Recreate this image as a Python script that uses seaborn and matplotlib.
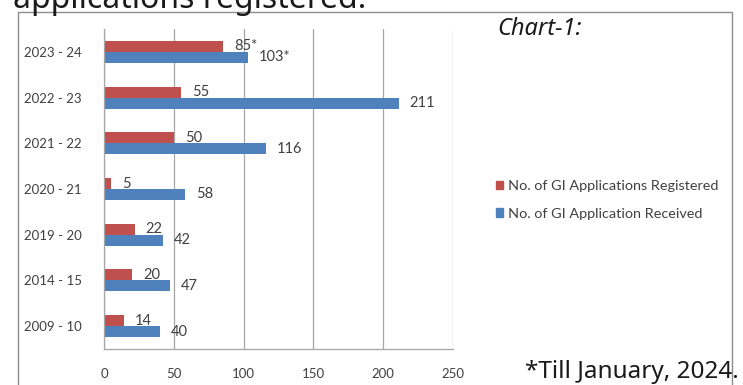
import matplotlib
matplotlib.use("Agg")
import matplotlib.pyplot as plt
import seaborn as sns
import pandas as pd
from matplotlib.patches import Rectangle

# Data
periods = ["2023 - 24", "2022 - 23", "2021 - 22", "2020 - 21",
           "2019 - 20", "2014 - 15", "2009 - 10"]
registered = [85, 55, 50, 5, 22, 20, 14]
received = [103, 211, 116, 58, 42, 47, 40]
registered_marks = ["*", "", "", "", "", "", ""]
received_marks = ["*", "", "", "", "", "", ""]
series_names = ["No. of GI Applications Registered",
                "No. of GI Application Received"]
x_ticks = [0, 50, 100, 150, 200, 250]

colors = ["#C0504D", "#4F81BD"]
text_grey = "#404040"
line_grey = "#A6A6A6"

df = pd.DataFrame({
    "period": periods * 2,
    "count": registered + received,
    "series": [series_names[0]] * len(periods) + [series_names[1]] * len(periods),
})

sns.set_theme(style="white")
plt.rcParams["font.family"] = ["Lato", "DejaVu Sans"]

W, H = 743, 385
fig = plt.figure(figsize=(W / 100, H / 100), dpi=100)
fig.patch.set_facecolor("white")

# Chart frame
fig.patches.append(Rectangle((18 / W, -0.05), (732 - 18) / W, 1.05 - 12 / H,
                             transform=fig.transFigure, fill=False,
                             edgecolor="#8C8C8C", lw=1.0, zorder=0))

ax = fig.add_axes([104 / W, (H - 349) / H, 349 / W, (349 - 29) / H])
sns.barplot(data=df, y="period", x="count", hue="series", order=periods,
            hue_order=series_names, palette=colors, width=0.48, orient="h",
            saturation=1, legend=False, linewidth=0, ax=ax)

ax.set_xlim(0, 250)
ax.set_xticks(x_ticks)
ax.set_xlabel("")
ax.set_ylabel("")
ax.xaxis.grid(True, color=line_grey, lw=0.9)
ax.set_axisbelow(True)
for side in ["top", "right"]:
    ax.spines[side].set_visible(False)
for side in ["left", "bottom"]:
    ax.spines[side].set_color(line_grey)
    ax.spines[side].set_linewidth(0.9)
ax.tick_params(axis="x", length=4, color=line_grey, pad=10, labelsize=9.5,
               labelcolor=text_grey)
ax.tick_params(axis="y", length=0, pad=16, labelsize=9.5, labelcolor=text_grey)

for container, vals, marks in zip(ax.containers, [registered, received],
                                  [registered_marks, received_marks]):
    labels = [f"{v}{m}" for v, m in zip(vals, marks)]
    ax.bar_label(container, labels=labels, padding=8, fontsize=10.5,
                 color=text_grey)

handles = [Rectangle((0, 0), 1, 1, color=c) for c in colors]
fig.legend(handles, series_names, loc="center left",
           bbox_to_anchor=(483 / W, 1 - 200 / H), frameon=False,
           handlelength=0.5, handleheight=0.5, handletextpad=0.3,
           labelspacing=1.05, fontsize=10.4, labelcolor=text_grey)

fig.text(13 / W, 1 - 8 / H, "applications registered.", fontsize=23,
         family=["Noto Sans", "DejaVu Sans"], va="baseline", color="#1A1A1A")
fig.text(497 / W, 1 - 29 / H, "Chart-1:", fontsize=17, style="italic",
         family=["Noto Sans", "DejaVu Sans"], va="center", color="#1A1A1A")
fig.text(525 / W, 1 - 372 / H, "*Till January, 2024.", fontsize=17.5,
         family=["Noto Sans", "DejaVu Sans"], va="center", color="#1A1A1A")

fig.savefig("out.png", dpi=100, facecolor="white")
